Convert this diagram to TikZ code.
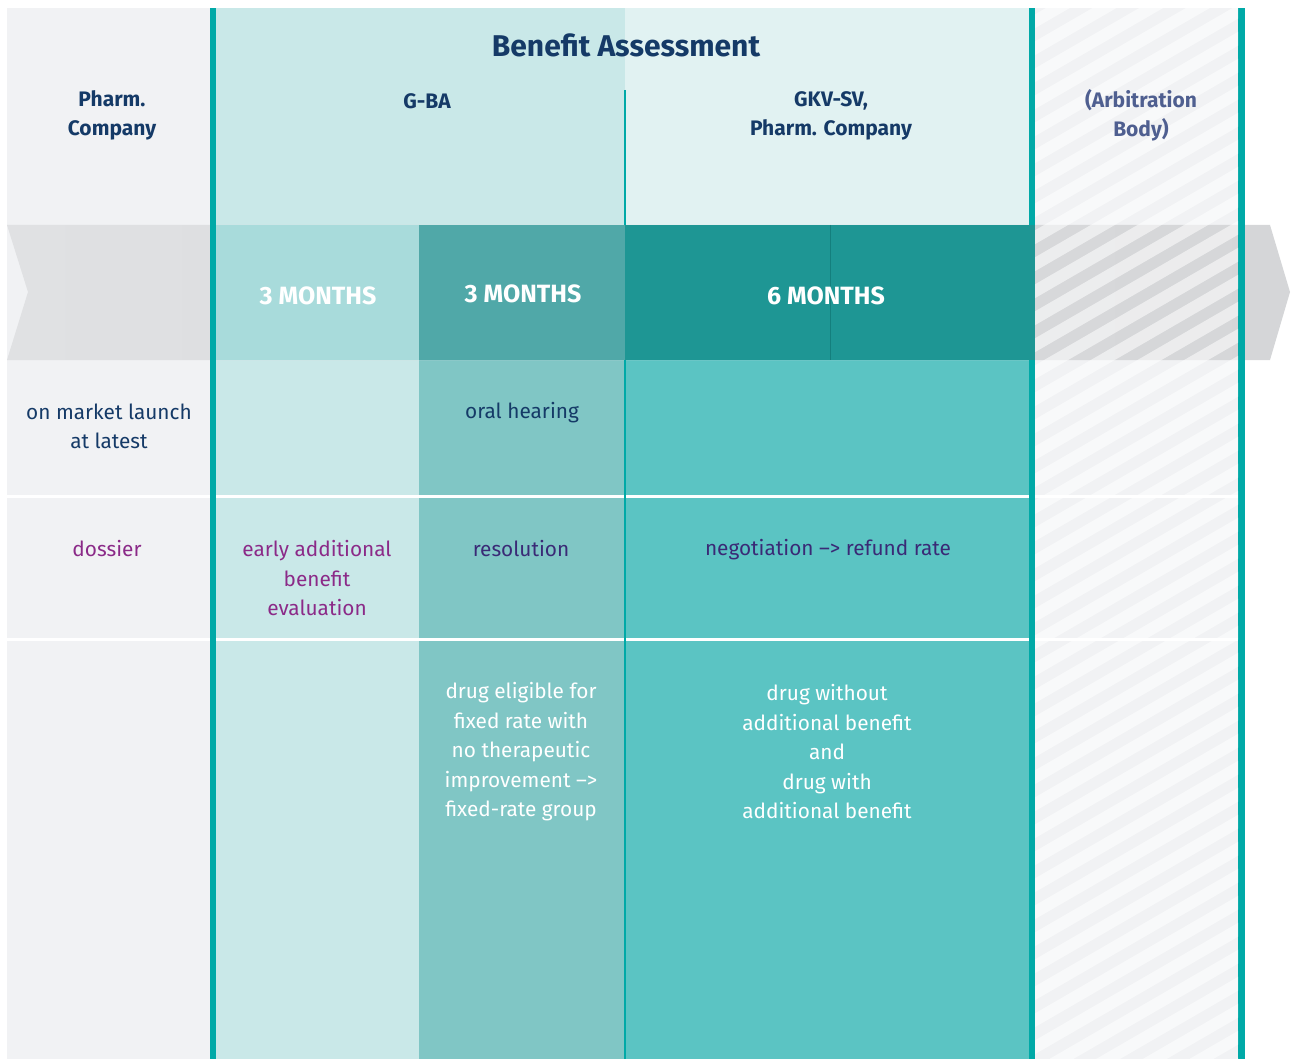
\documentclass[tikz,border=0pt]{standalone}
\usepackage{fontspec}
\setmainfont{Fira Sans}

\definecolor{side-grey}{HTML}{F1F2F4}
\definecolor{band-grey}{HTML}{E0E1E3}
\definecolor{band-grey-dark}{HTML}{D5D6D8}
\definecolor{bar-teal}{HTML}{00A9A7}
\definecolor{gba-light}{HTML}{C9E8E8}
\definecolor{gkv-light}{HTML}{E1F2F2}
\definecolor{month-one}{HTML}{A8DBDB}
\definecolor{month-two}{HTML}{50A8A8}
\definecolor{month-three}{HTML}{1E9694}
\definecolor{month-line}{HTML}{147F7D}
\definecolor{col-two}{HTML}{80C6C5}
\definecolor{col-three}{HTML}{5BC4C3}
\definecolor{navy}{HTML}{153A67}
\definecolor{slate}{HTML}{4F5F90}
\definecolor{plum}{HTML}{8B2A88}
\definecolor{indigo}{HTML}{3A2A76}

\begin{document}
\begin{tikzpicture}[
        x=1pt, y=-1pt,
        every node/.style={align=center, inner sep=0pt},
        title/.style={font=\bfseries\fontsize{30}{34}\selectfont, text=navy},
        hdr/.style={font=\bfseries\fontsize{21}{29}\selectfont, text=navy},
        body/.style={font=\fontsize{20.8}{29.5}\selectfont, text=navy},
        months/.style={font=\bfseries\fontsize{25}{30}\selectfont, text=white},
    ]
        \useasboundingbox (0,0) rectangle (1295,1059);
        \fill[side-grey] (7,8) rectangle (210,1059);
        \fill[gba-light] (216,8) rectangle (625,225);
        \fill[gkv-light] (625,8) rectangle (1030,225);
        \fill[gba-light] (216,360) rectangle (419,1059);
        \fill[col-two] (419,360) rectangle (625,1059);
        \fill[col-three] (625,360) rectangle (1030,1059);
        \fill[side-grey] (1035,8) rectangle (1238,1059);
        \shade[left color=band-grey, right color=band-grey-dark]
            (7,225) -- (1270,225) -- (1290,292) -- (1270,360) -- (7,360) -- (28,292) -- cycle;
        \draw[white, line width=3pt] (7,496) -- (1238,496) (7,639) -- (1238,639);
        \fill[bar-teal] (210,8) rectangle (216,1059);
        \fill[bar-teal] (1029,8) rectangle (1035,1059);
        \fill[bar-teal] (1238,8) rectangle (1245,1059);
        \fill[month-one] (216,225) rectangle (419,360);
        \fill[month-two] (419,225) rectangle (625,360);
        \fill[month-three] (625,225) rectangle (1035,360);
        \draw[month-line, line width=1pt] (830,225) -- (830,360);
        \draw[bar-teal, line width=1.5pt] (625,90) -- (625,225) (625,360) -- (625,1059);
        \begin{scope}
            \clip (1035,8) rectangle (1238,1059);
            \foreach \k in {0,...,46}
                \draw[white, opacity=0.55, line width=12pt] (1025,\k*27) -- (1248,\k*27-129);
        \end{scope}

        \node[title] (assess) at (626,45) {Benefit Assessment};
        \node[hdr] (pharm) at (112,115.5) {Pharm.\\Company};
        \node[hdr] (gba) at (427,101) {G-BA};
        \node[hdr] (gkv) at (831,115.5) {GKV-SV,\\Pharm. Company};
        \node[hdr, text=slate] (arbit) at (1141,115.5) {(Arbitration\\Body)};
        \node[months] (first) at (318,296) {3 MONTHS};
        \node[months] (second) at (523,294) {3 MONTHS};
        \node[months] (third) at (826,296) {6 MONTHS};
        \node[body] (launch) at (109,426.5) {on market launch\\at latest};
        \node[body] (hearing) at (522,413) {oral hearing};
        \node[body, text=plum] (dossier) at (107,549) {dossier};
        \node[body, text=plum] (early) at (317,578.5) {early additional\\benefit\\evaluation};
        \node[body, text=indigo] (resol) at (521,549) {resolution};
        \node[body, text=indigo] (nego) at (828,550) {negotiation \textendash{}> refund rate};
        \node[body, text=white] (fixed) at (521,752) {drug eligible for\\fixed rate with\\no therapeutic\\improvement \textendash{}>\\fixed-rate group};
        \node[body, text=white] (without) at (827,752) {drug without\\additional benefit\\and\\drug with\\additional benefit};
    \end{tikzpicture}
\end{document}
